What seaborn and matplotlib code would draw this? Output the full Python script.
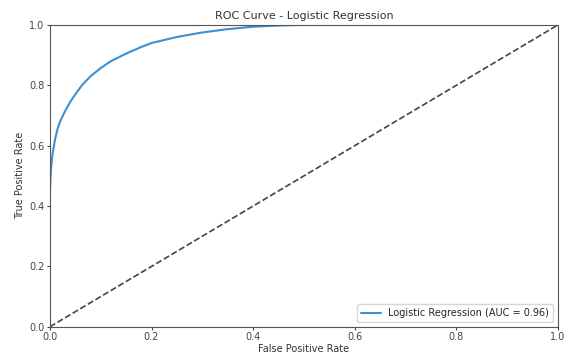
import matplotlib
matplotlib.use("Agg")
import matplotlib.pyplot as plt
import seaborn as sns
import pandas as pd

# ROC points
fpr = [0.0, 0.0, 0.0, 0.002, 0.005, 0.01, 0.015, 0.02, 0.03, 0.04, 0.05, 0.063, 0.08,
       0.1, 0.12, 0.15, 0.18, 0.2, 0.25, 0.3, 0.35, 0.4, 0.45, 0.5, 0.6, 0.8, 1.0]
tpr = [0.0, 0.3, 0.45, 0.52, 0.57, 0.62, 0.655, 0.68, 0.715, 0.745, 0.77, 0.80, 0.83,
       0.857, 0.88, 0.905, 0.927, 0.94, 0.96, 0.975, 0.986, 0.994, 0.998, 1.0, 1.0, 1.0, 1.0]
chance = [0.0, 1.0]
auc_label = "Logistic Regression (AUC = 0.96)"

sns.set_style("ticks")
plt.rcParams['font.family'] = ['DejaVu Sans']
plt.rcParams['font.size'] = 7

fig = plt.figure(figsize=(5.67, 3.56), dpi=100)
ax = fig.add_axes([0.088, 0.082, 0.896, 0.848])

df = pd.DataFrame({"fpr": fpr, "tpr": tpr})
sns.lineplot(data=df, x="fpr", y="tpr", ax=ax, color="#3d8fd1", linewidth=1.5,
             label=auc_label, sort=False, estimator=None)
sns.lineplot(x=chance, y=chance, ax=ax, color="#444444", linestyle="--", linewidth=1.2)

ax.set_xlim(0, 1)
ax.set_ylim(0, 1)
ax.set_xlabel("False Positive Rate", fontsize=7, color="#333333", labelpad=1)
ax.set_ylabel("True Positive Rate", fontsize=7, color="#333333", labelpad=3)
ax.set_title("ROC Curve - Logistic Regression", fontsize=8, color="#333333", pad=4)
ax.tick_params(labelsize=7, colors="#444444", length=2.5, pad=1.5)
for s in ax.spines.values():
    s.set_color("#555555")
ax.legend(loc="lower right", fontsize=7, frameon=True)

fig.savefig("out.png", dpi=100)
